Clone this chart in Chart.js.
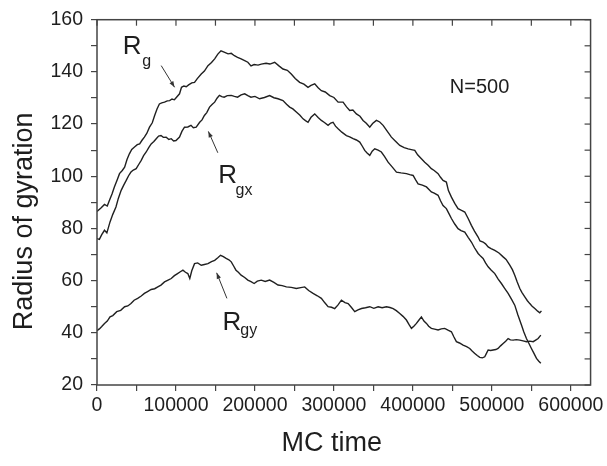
<!DOCTYPE html>
<html><head><meta charset="utf-8">
<script src="https://cdn.jsdelivr.net/npm/chart.js@4.4.1/dist/chart.umd.min.js"></script>
<style>html,body{margin:0;padding:0;background:#fff}#wrap{width:607px;height:466px}</style>
</head><body><div id="wrap"><canvas id="c" width="607" height="466"></canvas></div>
<script>
// ---- data (MC time, radius of gyration) ----
const rgTime = [0,5000,9500,13000,15800,19000,22000,25500,28500,32000,35000,38000,41000,44000,47500,51000,54000,57000,60000,63000,66500,70000,73000,76000,79000,82000,85500,89000,92000,95000,98000,101000,104500,107000,110000,113000,116000,120000,123500,127000,132000,136000,140500,145000,149000,153000,157000,161000,166000,170000,174000,178000,182500,187000,191000,195000,199000,204000,208000,214000,219000,225000,230000,235500,241000,246000,251000,256600,262000,267200,271000,275700,280000,284100,289000,294700,300000,305300,311600,316000,320000,324000,328500,333000,336900,341000,345400,349000,353800,358000,362300,367000,372800,378000,383400,389000,394000,398000,402400,406000,410800,415000,419300,423400,427000,431900,435000,438200,442400,445000,448800,453000,457200,461000,465700,470000,474100,478000,482600,485000,488900,492000,495300,499000,503700,509000,514300,518000,522700,526000,529000,532000,535400,538000,541700,545000,548000,551000,554400,558000,560700,562800];
const rgValues = [86.5,87.8,89.2,88.6,90.8,93.2,95.9,98.6,101,102.2,103.5,106.4,108.6,110.3,111.2,112.1,112.4,113.8,115,116.4,118.8,120.5,123.3,125.8,127.7,128.1,128.4,128.9,129,129.6,129.3,130.4,131.6,134.1,134.6,134.3,135,135.8,136,137.4,139.2,140.3,142.4,143.6,145,146.8,148.1,147.6,146.9,147.1,146.2,145.6,145,144.3,143.7,142.3,142.8,142.6,143,143.3,143,143.7,142.4,141.1,140.6,139.2,137.5,136,135.3,134.1,134.8,135.4,133.9,132.8,132.3,130.9,130.2,128.4,128.4,126.6,125.2,125.4,123.9,123,121.4,120.3,118.8,120.2,121.4,120.8,119.5,117.5,115,113.4,111.8,111,110.5,110.2,109.9,108.2,106.7,105.4,104.2,102.9,102.2,101,99.6,98.4,97.8,94.5,92,89.6,87.6,87,86.3,83.8,81.2,79,76.7,75.2,74.8,74.1,72.9,72.3,71.6,70.6,69.1,68.1,65.9,64.2,62.1,59.6,57,55.5,53.8,52.3,51.2,50.2,49.3,48.3,47.7,48.4];

const rgxTime = [0,3000,6000,9500,12500,16500,20000,24000,27000,30600,34000,37000,40000,43000,46000,49600,53000,56000,59000,62300,65500,68600,72000,75000,78000,81000,84000,87600,91000,94000,97000,100000,104500,107500,110800,115000,119000,122000,125600,130000,133000,136000,139000,142500,146000,149000,152000,155000,158000,161000,165000,170000,174000,178000,182500,187000,191000,195000,200000,205900,212000,218600,224000,229200,235500,240000,244000,248000,252400,257000,260900,264000,267200,271000,275700,280000,284100,288000,292600,296000,298900,302000,305300,310000,315800,320000,324300,328500,332700,336000,339000,342000,345400,348500,351700,356000,360100,364000,368600,374000,379200,385000,391800,396000,400300,403500,406600,412000,417200,423400,427000,431900,435000,438200,442400,445500,448800,453000,457200,461000,465700,470000,474100,478000,482600,486000,488900,492000,495300,499000,503700,508000,512100,516000,520600,525000,529000,533000,537500,540500,543800,547000,550100,553000,556500,559500,562000];
const rgxValues = [76.1,75.8,77.6,79.3,78.3,82.5,85.4,88.2,91.5,94.6,96.7,98.4,100.2,101.6,102.4,102.9,104.6,106.1,107.9,109.3,111,112.4,113.3,114.4,115.4,115.6,114.9,115,114.1,114.4,113.5,113.7,115,117.2,118.8,118.9,119.5,118.6,118.8,120.7,121.6,123.3,124.4,126.5,127.6,128.4,129.9,131,130.5,130.3,130.9,131,130.6,130.3,131.2,131.6,130.9,130.3,130.6,129.7,130.2,130.9,130.1,129.7,129,127.6,126.5,125.8,124.6,123.4,122,121.3,120.7,122.6,123.9,122.5,121.4,120.6,119.5,120.4,120.7,119.2,118.2,116.9,115.6,115.1,114.4,113.9,113.1,111.5,109.9,108.9,108,109.6,110.5,110,109.3,107.6,105.4,103.5,101.6,101.3,101,100.6,100.3,98.6,97.1,96.6,95.9,94,93.5,92.7,90.6,88.8,87.6,85.8,83.8,81.7,79.9,79.2,78.6,76.6,74.8,72.6,70.4,69.3,68.5,66.8,65.3,64.1,62.7,60.6,58.9,57.1,55.1,52.8,50.6,46.8,43,40.3,37.8,35.9,34,32.3,30.2,29.1,28.3];

const rgyTime = [0,3000,6000,9500,13000,16500,20000,25000,30000,35000,39000,43000,47000,51500,56000,60000,64000,68600,73000,77000,81000,85500,90000,94000,98000,102000,105500,108800,112000,115000,117500,120000,123500,127500,132000,136000,140500,145000,149000,153000,156400,160000,163500,167000,170000,173000,176000,179000,182500,187000,191000,195000,199000,203000,208000,213000,218600,224000,229200,234500,239800,246000,252400,258000,263000,268000,273600,279000,284100,288500,292600,297000,301000,305000,309500,314000,318000,322000,326400,330500,334900,340000,345400,350500,356000,361000,366500,371000,375000,379000,383400,387500,391800,395000,398200,401500,404500,407500,410800,414000,417200,420000,423400,427500,431900,436000,440300,444500,448800,452000,455100,459000,463600,468000,472000,475000,478400,481500,484700,488000,491000,493000,495300,498500,501600,505000,507900,511000,514300,517500,520600,523500,527000,531000,535400,539500,543800,548000,552300,555500,558600,562000];
const rgyValues = [40.8,41.5,42.4,43.6,44.5,46.1,46.6,48.1,48.6,50,50.3,51.2,52.5,53.2,54.1,55.1,55.8,56.6,56.9,57.6,58.3,59.5,60.2,60.8,61.9,62.7,63.4,64,63.2,62.7,60.8,63.8,66.5,66.8,65.9,66.2,66.5,67.3,67.8,68.8,69.7,69.2,68.5,68,67.2,65.6,64,63.2,62.1,61.2,60.2,59.6,58.9,59.8,60.2,59.7,60.2,59.3,58.3,58.1,57.6,57.4,57,57.3,57.6,56.2,55.1,54.2,53.2,51.5,50,49.8,49.3,50.6,52.5,51.6,51.2,49.8,48.1,48.8,49.3,49.6,50,49.4,50,49.6,50,49.7,49.3,48.5,47.4,46.3,44.9,43.2,41.7,42.6,43.6,44.8,46.1,44.5,43.6,42.5,41.7,41.4,41.1,41.5,41.7,41,40.4,38.4,36.6,36.1,35.3,34.7,34,33,32.1,31.3,30.6,30.4,30.8,32,33.4,33.2,33.4,33.6,34,35,35.9,36.8,37.8,37.3,37.2,37.4,37.2,36.9,36.6,36.8,36.6,37.2,37.8,39.1];

// axis ranges / ticks
const xRange = [0, 625000];
const yRange = [20, 160];
const xTickValues = [0,50000,100000,150000,200000,250000,300000,350000,400000,450000,500000,550000,600000];
const xTickLabels = ['0','','100000','','200000','','300000','','400000','','500000','','600000'];
const yTickValues = [20,30,40,50,60,70,80,90,100,110,120,130,140,150,160];
const yTickLabels = ['20','','40','','60','','80','','100','','120','','140','','160'];

// annotations (data coordinates)
const curveLabels = [
  {main:'R', sub:'g',  x:32700,  y:146.9, subX:57300,  subY:142.4},
  {main:'R', sub:'gx', x:153600, y:97.4,  subX:175500, subY:92.7},
  {main:'R', sub:'gy', x:159000, y:41.0,  subX:181500, subY:39.1}
];
const arrows = [
  {from:[81300,142.4], to:[98200,134.1]},
  {from:[153000,109.0], to:[141000,117.2]},
  {from:[164500,53.2], to:[151500,63.0]}
];
const noteText = {text:'N=500', x:446700, y:131.8};

const FONT = '"Liberation Sans", Arial, Helvetica, sans-serif';
const INK = '#1e1e1e';
const toPts = (t, v) => t.map((x, i) => ({x, y: v[i]}));

const decor = {
  id: 'decor',
  afterDraw(chart) {
    const {ctx, chartArea: a, scales: {x, y}} = chart;
    ctx.save();
    ctx.strokeStyle = '#444';
    ctx.lineWidth = 1.5;
    ctx.strokeRect(a.left, a.top, a.right - a.left, a.bottom - a.top);
    ctx.lineWidth = 1.2;
    x.ticks.forEach(t => {
      const px = x.getPixelForValue(t.value);
      ctx.beginPath(); ctx.moveTo(px, a.top); ctx.lineTo(px, a.top + 6); ctx.stroke();
    });
    y.ticks.forEach(t => {
      const py = y.getPixelForValue(t.value);
      ctx.beginPath(); ctx.moveTo(a.right, py); ctx.lineTo(a.right - 6, py); ctx.stroke();
    });
    ctx.fillStyle = INK;
    ctx.textBaseline = 'alphabetic';
    ctx.textAlign = 'left';
    curveLabels.forEach(l => {
      ctx.font = '26px ' + FONT;
      ctx.fillText(l.main, x.getPixelForValue(l.x), y.getPixelForValue(l.y));
      ctx.font = '16px ' + FONT;
      ctx.fillText(l.sub, x.getPixelForValue(l.subX), y.getPixelForValue(l.subY));
    });
    ctx.font = '20px ' + FONT;
    ctx.fillText(noteText.text, x.getPixelForValue(noteText.x), y.getPixelForValue(noteText.y));
    ctx.strokeStyle = '#333';
    ctx.lineWidth = 1;
    arrows.forEach(ar => {
      const x0 = x.getPixelForValue(ar.from[0]), y0 = y.getPixelForValue(ar.from[1]);
      const x1 = x.getPixelForValue(ar.to[0]), y1 = y.getPixelForValue(ar.to[1]);
      ctx.beginPath(); ctx.moveTo(x0, y0); ctx.lineTo(x1, y1); ctx.stroke();
      const ang = Math.atan2(y1 - y0, x1 - x0), L = 6, W = 2.2;
      ctx.beginPath();
      ctx.moveTo(x1, y1);
      ctx.lineTo(x1 - L * Math.cos(ang) + W * Math.sin(ang), y1 - L * Math.sin(ang) - W * Math.cos(ang));
      ctx.lineTo(x1 - L * Math.cos(ang) - W * Math.sin(ang), y1 - L * Math.sin(ang) + W * Math.cos(ang));
      ctx.closePath(); ctx.fillStyle = '#333'; ctx.fill();
    });
    ctx.fillStyle = INK;
    ctx.font = '27px ' + FONT;
    ctx.textAlign = 'center';
    ctx.textBaseline = 'middle';
    ctx.fillText('MC time', (a.left + a.right) / 2 - 12, a.bottom + 59);
    ctx.translate(25, (a.top + a.bottom) / 2 + 19);
    ctx.rotate(-Math.PI / 2);
    ctx.fillText('Radius of gyration', 0, 0);
    ctx.restore();
  }
};

const lineStyle = {borderColor: '#202020', borderWidth: 1.4, pointRadius: 0, tension: 0, fill: false};

new Chart(document.getElementById('c'), {
  type: 'line',
  data: {
    datasets: [
      Object.assign({label: 'Rg',  data: toPts(rgTime, rgValues)}, lineStyle),
      Object.assign({label: 'Rgx', data: toPts(rgxTime, rgxValues)}, lineStyle),
      Object.assign({label: 'Rgy', data: toPts(rgyTime, rgyValues)}, lineStyle)
    ]
  },
  options: {
    responsive: false,
    animation: false,
    devicePixelRatio: 1,
    layout: {padding: {top: 19, right: 16, left: 0, bottom: 0}},
    plugins: {legend: {display: false}, tooltip: {enabled: false}},
    scales: {
      x: {
        type: 'linear', min: xRange[0], max: xRange[1],
        afterBuildTicks(s) { s.ticks = xTickValues.map(v => ({value: v})); },
        afterFit(s) { s.height = 81; },
        border: {display: false},
        grid: {drawOnChartArea: false, drawTicks: true, tickLength: 6, color: '#444', lineWidth: 1.2},
        ticks: {
          autoSkip: false, maxRotation: 0, minRotation: 0, padding: 3,
          color: INK, font: {family: FONT, size: 19.5},
          callback: (v, i) => xTickLabels[i]
        }
      },
      y: {
        type: 'linear', min: yRange[0], max: yRange[1],
        afterBuildTicks(s) { s.ticks = yTickValues.map(v => ({value: v})); },
        afterFit(s) { s.width = 97; },
        border: {display: false},
        grid: {drawOnChartArea: false, drawTicks: true, tickLength: 6, color: '#444', lineWidth: 1.2},
        ticks: {
          autoSkip: false, padding: 8,
          color: INK, font: {family: FONT, size: 19.5},
          callback: (v, i) => yTickLabels[i]
        }
      }
    }
  },
  plugins: [decor]
});
</script></body></html>
